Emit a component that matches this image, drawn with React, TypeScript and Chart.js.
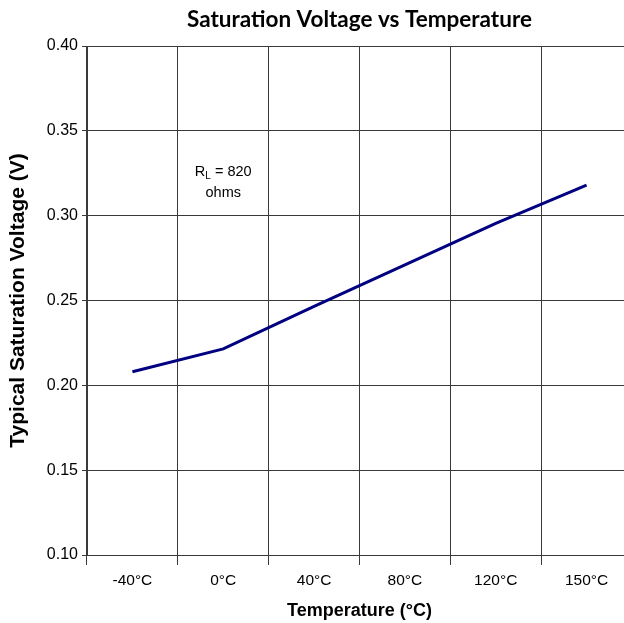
import React, { useEffect, useRef } from "react";
import { Chart, registerables } from "chart.js";

Chart.register(...registerables);

const categories = ["-40°C", "0°C", "40°C", "80°C", "120°C", "150°C"];
const saturationVoltage = [0.208, 0.2215, 0.2465, 0.271, 0.2955, 0.318];
const yTicks = { min: 0.1, max: 0.4, step: 0.05 };
const noteCategory = "0°C";
const noteLines = [0.3258, 0.3134];

const ARIAL = "'Liberation Sans', Arial, sans-serif";

const notePlugin = {
  id: "rlNote",
  afterDatasetsDraw(chart: any) {
    const { ctx, scales } = chart;
    const x = scales.x.getPixelForValue(categories.indexOf(noteCategory));
    const y1 = scales.y.getPixelForValue(noteLines[0]);
    const y2 = scales.y.getPixelForValue(noteLines[1]);
    ctx.save();
    ctx.fillStyle = "#000";
    ctx.textBaseline = "middle";
    const big = `14.5px ${ARIAL}`;
    const small = `10px ${ARIAL}`;
    ctx.font = big;
    const wR = ctx.measureText("R").width;
    const wRest = ctx.measureText(" = 820").width;
    ctx.font = small;
    const wL = ctx.measureText("L").width;
    const total = wR + wL + wRest;
    let cx = x - total / 2;
    ctx.textAlign = "left";
    ctx.font = big;
    ctx.fillText("R", cx, y1);
    cx += wR;
    ctx.font = small;
    ctx.fillText("L", cx, y1 + 4);
    cx += wL;
    ctx.font = big;
    ctx.fillText(" = 820", cx, y1);
    ctx.textAlign = "center";
    ctx.fillText("ohms", x, y2);
    ctx.restore();
  },
};

export default function App() {
  const ref = useRef<HTMLCanvasElement | null>(null);
  useEffect(() => {
    if (!ref.current) return;
    const chart = new Chart(ref.current, {
      type: "line",
      data: {
        labels: categories,
        datasets: [
          {
            data: saturationVoltage,
            borderColor: "#000080",
            backgroundColor: "#000080",
            borderWidth: 3,
            pointRadius: 0,
            tension: 0,
          },
        ],
      },
      options: {
        animation: false,
        responsive: false,
        layout: { padding: { left: 0, right: 8, top: 0, bottom: 0 } },
        plugins: {
          legend: { display: false },
          tooltip: { enabled: false },
          title: {
            display: true,
            text: "Saturation Voltage vs Temperature",
            fullSize: false,
            color: "#000",
            font: { family: "Lato, 'Open Sans', sans-serif", size: 22.5, weight: "bold" },
            padding: { top: 6.5, bottom: 12.5 },
          },
        },
        scales: {
          x: {
            offset: true,
            grid: { offset: true, color: "#3a3a3a", lineWidth: 1, tickLength: 10, drawTicks: true },
            border: { color: "#3a3a3a", width: 1 },
            ticks: { color: "#000", font: { family: ARIAL, size: 15.5 }, padding: 6, maxRotation: 0 },
            title: {
              display: true,
              text: "Temperature (°C)",
              color: "#000",
              font: { family: ARIAL, size: 18, weight: "bold" },
              padding: { top: 0, bottom: 1.5 },
            },
            afterFit(scale: any) {
              scale.height = 68;
            },
          },
          y: {
            min: yTicks.min,
            max: yTicks.max,
            grid: { color: "#3a3a3a", lineWidth: 1, tickLength: 5 },
            border: { color: "#3a3a3a", width: 1 },
            ticks: {
              stepSize: yTicks.step,
              color: "#000",
              font: { family: ARIAL, size: 16 },
              padding: 4,
              callback: (v: any) => Number(v).toFixed(2),
            },
            title: {
              display: true,
              text: "Typical Saturation Voltage (V)",
              color: "#000",
              font: { family: ARIAL, size: 21, weight: "bold" },
              padding: { top: 5.5, bottom: 0 },
            },
            afterFit(scale: any) {
              scale.width = 87;
            },
          },
        },
      },
      plugins: [notePlugin],
    });
    return () => chart.destroy();
  }, []);
  return (
    <div
      style={{
        position: "absolute",
        left: 0,
        top: 0,
        width: 624,
        height: 623,
        overflow: "hidden",
        background: "#fff",
      }}
    >
      <canvas ref={ref} width={640} height={623} style={{ width: 640, height: 623, display: "block" }} />
    </div>
  );
}
